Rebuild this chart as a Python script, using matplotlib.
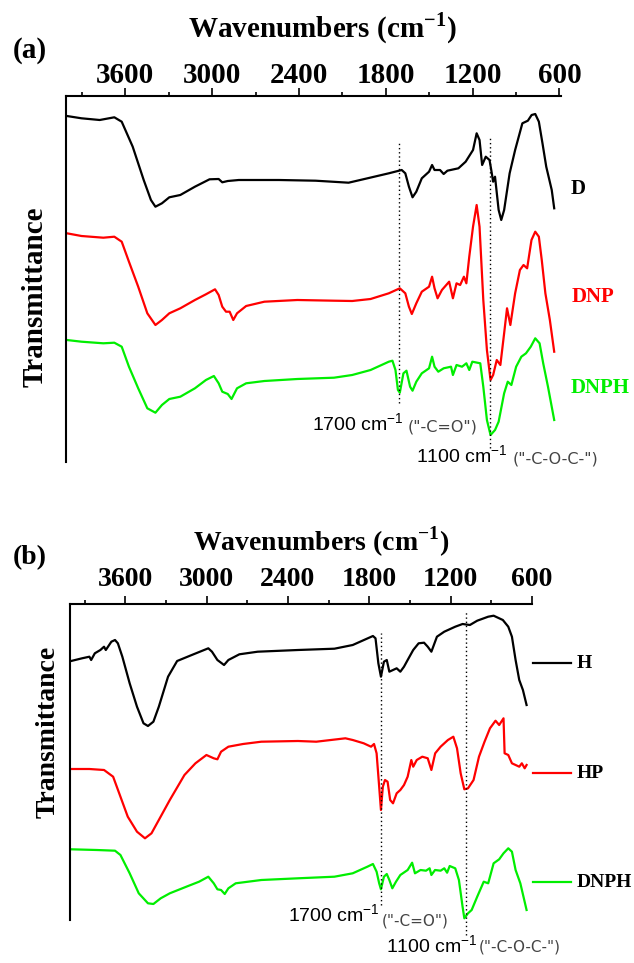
import numpy as np
import matplotlib.pyplot as plt

plt.rcParams['font.family'] = ['Liberation Serif', 'DejaVu Serif']
plt.rcParams['mathtext.fontset'] = 'custom'
plt.rcParams['mathtext.rm'] = 'Liberation Serif'
plt.rcParams['mathtext.bf'] = 'Liberation Serif:bold'
plt.rcParams['mathtext.sf'] = 'Liberation Sans'
plt.rcParams['lines.solid_joinstyle'] = 'round'

GREEN = '#00ee00'
RED = '#ff0000'

# ---- panel (a): wavenumber (cm-1) and transmittance (a.u., offset traces)
d_wn = [4004, 3903, 3777, 3676, 3625, 3549, 3473, 3423, 3392, 3347, 3296, 3220,
        3119, 3018, 2955, 2930, 2892, 2816, 2538, 2285, 2057, 1956, 1779, 1690,
        1665, 1640, 1615, 1589, 1551, 1501, 1480, 1463, 1425, 1400, 1374, 1298,
        1248, 1197, 1172, 1152, 1134, 1109, 1083, 1071, 1058, 1045, 1020, 1002,
        982, 944, 906, 856, 818, 792, 767, 742, 717, 691, 653, 636]
d_t = [346.0, 343.7, 342.0, 344.7, 340.3, 315.3, 282.0, 262.0, 255.3, 258.7,
       264.7, 267.0, 275.3, 282.7, 283.0, 279.7, 281.0, 282.0, 282.0, 281.3,
       279.3, 282.7, 288.7, 292.0, 288.7, 275.3, 264.7, 270.3, 283.7, 290.3,
       297.0, 292.0, 292.0, 288.0, 291.3, 293.7, 300.3, 312.0, 328.7, 322.0,
       297.0, 305.3, 302.0, 292.0, 280.3, 285.3, 252.0, 242.0, 252.0, 288.7,
       312.0, 338.7, 341.3, 347.0, 348.0, 340.3, 318.7, 295.3, 272.0, 253.7]

dnp_wn = [4004, 3903, 3752, 3676, 3625, 3575, 3511, 3448, 3392, 3347, 3296, 3220,
          3119, 3043, 2980, 2955, 2930, 2904, 2879, 2854, 2828, 2765, 2639, 2411,
          2158, 2032, 1905, 1779, 1703, 1665, 1640, 1620, 1589, 1551, 1501, 1480,
          1463, 1442, 1412, 1362, 1336, 1311, 1286, 1260, 1243, 1223, 1197, 1172,
          1152, 1126, 1101, 1076, 1058, 1033, 1008, 982, 962, 939, 906, 873, 848,
          823, 793, 767, 742, 722, 697, 666, 636]
dnp_t = [228.7, 226.0, 224.3, 225.3, 220.3, 200.3, 175.3, 148.7, 137.0, 142.0,
         148.7, 153.7, 162.0, 167.7, 172.7, 167.0, 155.3, 150.3, 150.3, 142.0,
         148.7, 156.0, 160.3, 162.0, 161.3, 161.0, 163.0, 168.7, 173.7, 168.7,
         155.3, 148.0, 158.7, 170.3, 175.3, 185.3, 173.7, 163.7, 172.0, 180.3,
         163.7, 178.7, 177.0, 185.3, 178.7, 205.3, 235.3, 257.0, 235.3, 162.0,
         112.0, 82.0, 87.0, 102.0, 97.0, 128.7, 153.7, 137.0, 168.7, 192.0,
         197.0, 193.7, 222.0, 230.3, 225.3, 202.0, 168.7, 142.0, 110.3]

dnph_a_wn = [4004, 3903, 3752, 3676, 3625, 3575, 3511, 3448, 3392, 3347, 3296,
             3220, 3119, 3043, 2988, 2955, 2930, 2892, 2866, 2828, 2765, 2639,
             2411, 2158, 2032, 1905, 1779, 1754, 1733, 1716, 1703, 1678, 1657,
             1632, 1615, 1589, 1551, 1501, 1480, 1463, 1437, 1400, 1349, 1336,
             1311, 1273, 1243, 1223, 1202, 1147, 1126, 1101, 1076, 1045, 1020,
             982, 957, 932, 899, 863, 831, 798, 767, 737, 712, 679, 636]
dnph_a_t = [122.0, 120.3, 118.7, 119.3, 115.3, 95.3, 73.7, 53.7, 49.3, 57.0,
            63.0, 65.3, 73.7, 82.0, 86.0, 78.7, 70.3, 68.0, 63.0, 73.7, 78.7,
            81.0, 83.0, 84.3, 87.0, 92.0, 100.3, 101.3, 92.0, 72.0, 69.3, 88.7,
            91.3, 75.3, 71.3, 80.3, 88.7, 93.7, 105.3, 95.3, 90.3, 93.7, 95.3,
            87.0, 97.0, 95.3, 98.7, 92.0, 100.3, 98.7, 75.3, 42.0, 27.0, 32.0,
            40.3, 68.7, 80.3, 77.0, 95.3, 105.3, 108.7, 115.3, 123.7, 118.7,
            98.7, 75.3, 42.0]

# ---- panel (b)
h_wn = [3999, 3918, 3864, 3851, 3824, 3783, 3756, 3743, 3702, 3675, 3654, 3621,
        3567, 3513, 3465, 3432, 3392, 3352, 3284, 3217, 3109, 2987, 2960, 2920,
        2871, 2839, 2758, 2623, 2326, 2057, 1922, 1773, 1754, 1733, 1714, 1692,
        1671, 1652, 1625, 1598, 1571, 1544, 1517, 1476, 1436, 1396, 1369, 1342,
        1301, 1247, 1166, 1112, 1058, 1004, 923, 883, 815, 775, 748, 721, 694,
        667, 640]
h_t = [269.0, 271.7, 273.3, 270.0, 276.7, 280.0, 283.3, 280.0, 288.3, 290.0,
       286.7, 273.3, 246.7, 223.3, 206.7, 204.0, 208.3, 223.3, 253.3, 269.0,
       275.0, 281.7, 278.3, 270.0, 265.0, 270.0, 275.7, 278.3, 280.0, 281.3,
       285.0, 294.0, 291.7, 266.7, 253.3, 268.3, 270.0, 258.3, 260.0, 261.7,
       258.3, 263.3, 270.0, 280.0, 286.7, 287.3, 283.3, 278.3, 293.3, 298.3,
       303.3, 306.0, 305.0, 309.3, 313.3, 314.3, 310.0, 303.3, 293.3, 270.0,
       250.0, 240.0, 225.0]

hp_wn = [3999, 3864, 3756, 3689, 3635, 3581, 3513, 3454, 3406, 3352, 3271, 3163,
         3082, 3001, 2947, 2920, 2893, 2839, 2731, 2596, 2326, 2191, 1976, 1922,
         1841, 1787, 1765, 1746, 1727, 1714, 1700, 1684, 1665, 1646, 1625, 1598,
         1571, 1544, 1517, 1490, 1476, 1450, 1409, 1369, 1342, 1314, 1274, 1220,
         1180, 1153, 1126, 1099, 1072, 1031, 991, 950, 910, 869, 842, 810, 802,
         775, 748, 721, 694, 675, 654, 640]
hp_t = [161.0, 161.0, 160.0, 153.3, 133.3, 113.3, 98.3, 91.7, 96.7, 110.0,
        130.0, 155.0, 166.7, 175.0, 171.7, 170.7, 178.3, 183.3, 186.0, 188.3,
        189.0, 188.3, 191.7, 190.0, 186.7, 183.3, 186.0, 176.7, 143.3, 120.0,
        143.3, 150.0, 148.3, 130.0, 126.7, 136.7, 140.0, 145.0, 153.3, 170.0,
        163.3, 170.0, 173.3, 171.7, 160.0, 176.7, 183.3, 190.0, 193.3, 181.7,
        156.7, 140.7, 141.7, 150.0, 173.3, 188.3, 201.7, 209.3, 205.0, 211.7,
        176.7, 175.0, 166.7, 165.0, 163.3, 166.7, 161.7, 165.0]

dnph_b_wn = [3999, 3810, 3675, 3635, 3567, 3500, 3432, 3392, 3338, 3271, 3136,
             3055, 2987, 2947, 2920, 2893, 2866, 2839, 2785, 2596, 2326, 2057,
             1922, 1814, 1773, 1746, 1727, 1714, 1692, 1671, 1652, 1630, 1603,
             1571, 1517, 1484, 1463, 1422, 1382, 1355, 1342, 1315, 1274, 1247,
             1226, 1207, 1166, 1139, 1112, 1099, 1072, 1045, 1004, 956, 923, 883,
             842, 810, 775, 748, 721, 686, 640]
dnph_b_t = [80.7, 80.0, 79.3, 75.0, 56.7, 36.7, 26.7, 26.0, 31.7, 36.7, 44.0,
            48.3, 53.3, 46.7, 40.7, 40.0, 36.0, 41.7, 46.7, 50.0, 51.7, 53.3,
            56.7, 63.3, 66.0, 58.3, 46.7, 40.7, 53.3, 56.0, 50.0, 41.7, 48.3,
            55.0, 60.0, 67.3, 56.7, 60.0, 59.3, 61.7, 55.0, 60.0, 59.3, 61.7,
            57.3, 64.0, 61.7, 50.0, 23.3, 11.7, 16.7, 20.0, 33.3, 48.3, 46.7,
            66.7, 70.7, 76.7, 81.7, 78.3, 60.0, 46.7, 20.0]

major_ticks = [3600, 3000, 2400, 1800, 1200, 600]
minor_ticks = [3900, 3300, 2700, 2100, 1500, 900]

# marker lines: wavenumber, top, bottom
peak_a = [(1708, 320, 59), (1078, 324, 14)]
peak_b = [(1714, 297, 25), (1088, 320, -5)]


def style_axes(ax, xlim, ylim, fs, pad):
    ax.set_xlim(*xlim)
    ax.set_ylim(*ylim)
    for s in ['right', 'bottom']:
        ax.spines[s].set_visible(False)
    for s in ['left', 'top']:
        ax.spines[s].set_linewidth(1.5)
    ax.xaxis.tick_top()
    ax.set_xticks(major_ticks)
    ax.set_xticks(minor_ticks, minor=True)
    ax.tick_params(axis='x', which='major', direction='out', length=6,
                   width=1.2, pad=pad, labelsize=fs)
    ax.tick_params(axis='x', which='minor', direction='out', length=3,
                   width=1.2)
    for lab in ax.get_xticklabels():
        lab.set_fontweight('bold')
    ax.set_yticks([])
    ax.patch.set_alpha(0)


def peak_note(ax, wn_num, y_num, wn_grp, y_grp, num, grp, gsize):
    ax.text(wn_num, y_num, num + r' cm$^{\mathsf{-1}}$', ha='right',
            va='baseline', fontsize=14, family='Liberation Sans',
            clip_on=False)
    ax.text(wn_grp, y_grp, grp, ha='left', va='baseline', fontsize=gsize,
            family='DejaVu Sans', color='#444444', clip_on=False)


fig = plt.figure(figsize=(6.34, 9.63), dpi=100)

# ---------------- (a)
ax1 = fig.add_axes([66 / 634, 1 - 462 / 963, 495 / 634, 366.3 / 963])
style_axes(ax1, (4010, 589), (0, 366.3), 21, -1.5)
ax1.plot(d_wn, d_t, color='black', lw=1.6, clip_on=False)
ax1.plot(dnp_wn, dnp_t, color=RED, lw=1.6, clip_on=False)
ax1.plot(dnph_a_wn, dnph_a_t, color=GREEN, lw=1.6, clip_on=False)
for wn, top, bot in peak_a:
    ax1.plot([wn, wn], [bot, top], color='black', lw=1.0,
             linestyle=(0, (1, 2)), clip_on=False)
ax1.text(472, 273, 'D', ha='center', va='center', fontsize=15,
         fontweight='bold', clip_on=False)
ax1.text(371, 165, 'DNP', ha='center', va='center', fontsize=15,
         fontweight='bold', color=RED, clip_on=False)
ax1.text(320, 74, 'DNPH', ha='center', va='center', fontsize=15,
         fontweight='bold', color=GREEN, clip_on=False)
peak_note(ax1, 1676, 31, 1649, 31, '1700', '("-C=O")', 11.5)
peak_note(ax1, 958, -1, 923, -1, '1100', '("-C-O-C-")', 11.5)
fig.text(322 / 634, 1 - 28 / 963, r'Wavenumbers (cm$^{\mathbf{-1}}$)',
         ha='center', va='center', fontsize=21, fontweight='bold')
fig.text(30 / 634, 1 - 50 / 963, '(a)', ha='center', va='center',
         fontsize=21, fontweight='bold')
fig.text(35 / 634, 1 - 297 / 963, 'Transmittance', rotation=90,
         ha='center', va='center', fontsize=21, fontweight='bold')

# ---------------- (b)
ax2 = fig.add_axes([70 / 634, 1 - 930 / 963, 462 / 634, 326 / 963])
style_axes(ax2, (4007, 600), (0, 326), 20, 3)
ax2.spines['left'].set_bounds(10, 326)
ax2.plot(h_wn, h_t, color='black', lw=1.6, clip_on=False)
ax2.plot(hp_wn, hp_t, color=RED, lw=1.6, clip_on=False)
ax2.plot(dnph_b_wn, dnph_b_t, color=GREEN, lw=1.6, clip_on=False)
for wn, top, bot in peak_b:
    ax2.plot([wn, wn], [bot, top], color='black', lw=1.0,
             linestyle=(0, (1, 2)), clip_on=False)
for name, col, yv in [('H', 'black', 267), ('HP', RED, 157),
                      ('DNPH', GREEN, 48)]:
    ax2.plot([594, 314], [yv, yv], color=col, lw=1.6, clip_on=False)
    ax2.text(270, yv, name, ha='left', va='center', fontsize=14,
             fontweight='bold', clip_on=False)
peak_note(ax2, 1722, 8, 1707, 5, '1700', '("-C=O")', 11)
peak_note(ax2, 999, -23, 993, -21, '1100', '("-C-O-C-")', 11)
fig.text(321 / 634, 1 - 542 / 963, r'Wavenumbers (cm$^{\mathbf{-1}}$)',
         ha='center', va='center', fontsize=20, fontweight='bold')
fig.text(30 / 634, 1 - 558 / 963, '(b)', ha='center', va='center',
         fontsize=20, fontweight='bold')
fig.text(48 / 634, 1 - 732 / 963, 'Transmittance', rotation=90,
         ha='center', va='center', fontsize=20, fontweight='bold')

fig.savefig('out.png', dpi=100, facecolor='white')
